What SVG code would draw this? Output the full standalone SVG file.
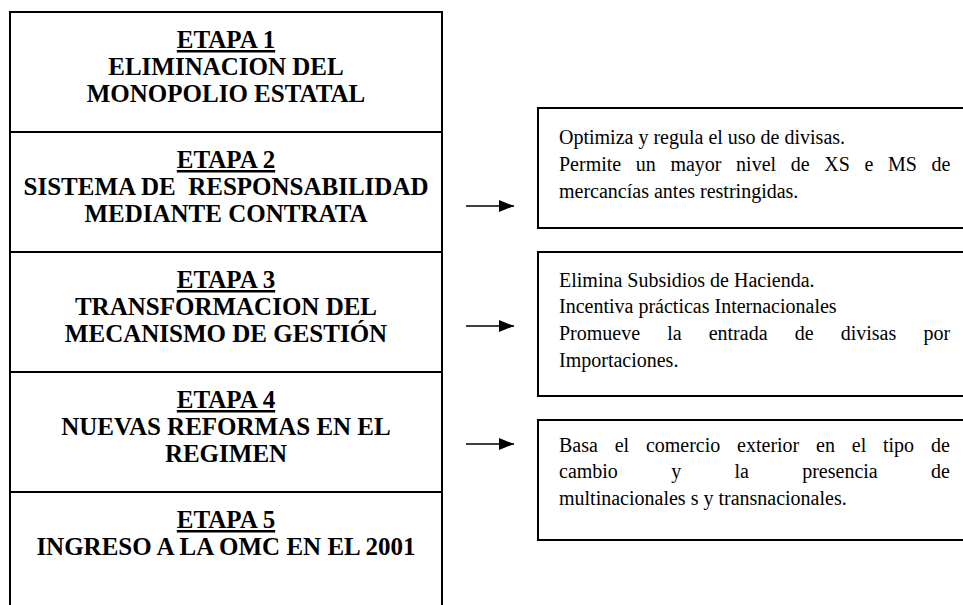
<svg xmlns="http://www.w3.org/2000/svg" width="963" height="605" viewBox="0 0 963 605">
<style>
.box{fill:#fff;stroke:#000;stroke-width:2}
.div{stroke:#000;stroke-width:2}
.h{font-family:"Liberation Serif","Times New Roman",serif;font-weight:bold;font-size:25px;text-anchor:middle;fill:#000;white-space:pre}
.u{text-decoration:underline}
.t{font-family:"Liberation Serif","Times New Roman",serif;font-size:20px;fill:#000}
.arr{stroke:#000;stroke-width:1.6;fill:none}
</style>
<defs>
<marker id="ah" markerUnits="userSpaceOnUse" markerWidth="16" markerHeight="14" refX="15" refY="6" orient="auto">
<path d="M0,0 L15,6 L0,12 Z" fill="#000"/>
</marker>
</defs>
<g id="stages">
<path class="box" d="M10,612 L10,12 L442,12 L442,612"/>
<line class="div" x1="10" y1="132" x2="442" y2="132"/>
<line class="div" x1="10" y1="252" x2="442" y2="252"/>
<line class="div" x1="10" y1="372" x2="442" y2="372"/>
<line class="div" x1="10" y1="492" x2="442" y2="492"/>
</g>
<g id="etapa1">
<text class="h" x="226" y="48"><tspan class="u">ETAPA 1</tspan></text>
<text class="h" x="226" y="75">ELIMINACION DEL</text>
<text class="h" x="226" y="102">MONOPOLIO ESTATAL</text>
</g>
<g id="etapa2">
<text class="h" x="226" y="168"><tspan class="u">ETAPA 2</tspan></text>
<text class="h" x="226" y="195">SISTEMA DE  RESPONSABILIDAD</text>
<text class="h" x="226" y="222">MEDIANTE CONTRATA</text>
</g>
<g id="etapa3">
<text class="h" x="226" y="288"><tspan class="u">ETAPA 3</tspan></text>
<text class="h" x="226" y="315">TRANSFORMACION DEL</text>
<text class="h" x="226" y="342">MECANISMO DE GESTIÓN</text>
</g>
<g id="etapa4">
<text class="h" x="226" y="408"><tspan class="u">ETAPA 4</tspan></text>
<text class="h" x="226" y="435">NUEVAS REFORMAS EN EL</text>
<text class="h" x="226" y="462">REGIMEN</text>
</g>
<g id="etapa5">
<text class="h" x="226" y="528"><tspan class="u">ETAPA 5</tspan></text>
<text class="h" x="226" y="555">INGRESO A LA OMC EN EL 2001</text>
</g>
<g id="connectors">
<line class="arr" x1="466" y1="206" x2="514" y2="206" marker-end="url(#ah)"/>
<line class="arr" x1="466" y1="326" x2="514" y2="326" marker-end="url(#ah)"/>
<line class="arr" x1="466" y1="444" x2="514" y2="444" marker-end="url(#ah)"/>
</g>
<g id="nota1">
<rect class="box" x="538" y="108" width="440" height="120"/>
<text class="t" x="559" y="144">Optimiza y regula el uso de divisas.</text>
<text class="t" y="171"><tspan x="559">Permite</tspan><tspan x="635.8">un</tspan><tspan x="670.4">mayor</tspan><tspan x="736.1">nivel</tspan><tspan x="790.7">de</tspan><tspan x="824.2">XS</tspan><tspan x="864.4">e</tspan><tspan x="887.9">MS</tspan><tspan x="931.4">de</tspan></text>
<text class="t" x="559" y="198">mercancías antes restringidas.</text>
</g>
<g id="nota2">
<rect class="box" x="538" y="252" width="440" height="144"/>
<text class="t" x="559" y="287">Elimina Subsidios de Hacienda.</text>
<text class="t" x="559" y="313">Incentiva prácticas Internacionales</text>
<text class="t" y="340"><tspan x="559">Promueve</tspan><tspan x="667.2">la</tspan><tspan x="708.7">entrada</tspan><tspan x="794.7">de</tspan><tspan x="840.7">divisas</tspan><tspan x="923.4">por</tspan></text>
<text class="t" x="559" y="367">Importaciones.</text>
</g>
<g id="nota3">
<rect class="box" x="538" y="420" width="440" height="120"/>
<text class="t" y="452"><tspan x="559">Basa</tspan><tspan x="614.7">el</tspan><tspan x="645.9">comercio</tspan><tspan x="737.1">exterior</tspan><tspan x="816.1">en</tspan><tspan x="851.8">el</tspan><tspan x="883">tipo</tspan><tspan x="930.9">de</tspan></text>
<text class="t" y="478"><tspan x="559">cambio</tspan><tspan x="671.2">y</tspan><tspan x="734.5">la</tspan><tspan x="802.2">presencia</tspan><tspan x="931">de</tspan></text>
<text class="t" x="559" y="505">multinacionales s y transnacionales.</text>
</g>
</svg>
